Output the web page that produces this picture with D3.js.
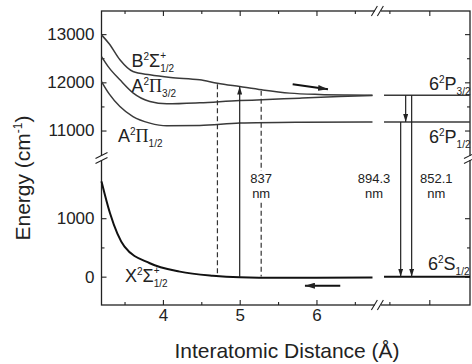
<!DOCTYPE html>
<html>
<head>
<meta charset="utf-8">
<script src="https://cdn.jsdelivr.net/npm/d3@7"></script>
<style>
    body { margin: 0; background: #fff; }
    text { font-family: "Liberation Sans", Arial, sans-serif; fill: #222; }
</style>
</head>
<body>
<svg id="chart" width="472" height="364"></svg>
<script>
// =====================
// DATA
// =====================
var distB = [3.2, 3.3, 3.44, 3.61, 3.83, 4.1, 4.48, 4.71, 5.0, 5.29, 5.65, 6.04, 6.4, 6.73];
var energyB = [12985, 12800, 12467, 12224, 12156, 12100, 12052, 11983, 11913, 11844, 11776, 11748, 11737, 11732];

var distA32 = [3.2, 3.3, 3.44, 3.61, 3.83, 4.05, 4.48, 5.0, 5.29, 5.78, 6.3, 6.73];
var energyA32 = [12535, 12300, 12052, 11782, 11602, 11554, 11575, 11622, 11637, 11672, 11705, 11725];

var distA12 = [3.2, 3.3, 3.44, 3.61, 3.83, 4.05, 4.48, 5.0, 5.8, 6.73];
var energyA12 = [12017, 11760, 11498, 11290, 11154, 11098, 11104, 11154, 11172, 11178];

var distX = [3.2, 3.31, 3.5, 3.83, 4.22, 4.65, 5.0, 5.5, 6.0, 6.73];
var energyX = [1630, 1090, 514, 229, 86, 17, -10, -20, -18, -15];

// atomic levels 6P3/2, 6P1/2, 6S1/2
var atomEnergy = [11732, 11178, 0];

var xMajor = [4, 5, 6];
var xMinor = [3.5, 4.5, 5.5, 6.5];
var xRightMajor = [7.47];
var xRightMinor = [6.95];
var yUpMajor = [11000, 12000, 13000];
var yUpMinor = [11500, 12500];
var yLoMajor = [0, 1000];
var yLoMinor = [500];

// ======
// SCALES
// ======
var svg = d3.select("#chart");
var L = 101.5, R = 470, T = 11, B = 305, YB = 158;

var x = d3.scaleLinear().domain([3.2, 8.0]).range([L, R]);
var yUp = d3.scaleLinear().domain([10430, 13480]).range([YB, T]);
var yLo = d3.scaleLinear().domain([-485, 2030]).range([B, YB]);
function yE(e) { return e > 5000 ? yUp(e) : yLo(e); }

function interp(xs, ys, v) {
    var i = d3.bisectRight(xs, v) - 1;
    i = Math.max(0, Math.min(xs.length - 2, i));
    var t = (v - xs[i]) / (xs[i + 1] - xs[i]);
    return ys[i] + t * (ys[i + 1] - ys[i]);
}

// arrow heads
var defs = svg.append("defs");
function head(id, w, h) {
    defs.append("marker")
        .attr("id", id)
        .attr("viewBox", "0 0 10 8")
        .attr("refX", 10).attr("refY", 4)
        .attr("markerUnits", "userSpaceOnUse")
        .attr("markerWidth", w).attr("markerHeight", h)
        .attr("preserveAspectRatio", "none")
        .attr("orient", "auto")
        .append("path").attr("d", "M0,0 L10,4 L0,8 z").attr("fill", "#222");
}
head("thin", 8, 5);
head("bold", 10, 6);

// ====
// AXES
// ====
function tickAxis(axisFn, scale, vals, size, labels, tx, ty) {
    var a = axisFn(scale).tickValues(vals).tickSizeInner(-size).tickSizeOuter(0);
    a.tickFormat(labels ? d3.format("d") : function () { return ""; });
    var g = svg.append("g").attr("transform", "translate(" + tx + "," + ty + ")").call(a);
    g.select(".domain").remove();
    g.selectAll("line").attr("stroke", "#222").attr("stroke-width", 1.1);
    g.selectAll("text").style("font-size", "17px").attr("fill", "#222");
    return g;
}

tickAxis(d3.axisBottom, x, xMajor, 5, true, 0, B).call(a => a.selectAll("text").attr("y", 4));
tickAxis(d3.axisBottom, x, xMinor.concat(xRightMinor), 3, false, 0, B);
tickAxis(d3.axisBottom, x, xRightMajor, 5, false, 0, B);
tickAxis(d3.axisTop, x, xMajor.concat(xRightMajor), 5, false, 0, T);
tickAxis(d3.axisTop, x, xMinor.concat(xRightMinor), 3, false, 0, T);

tickAxis(d3.axisLeft, yUp, yUpMajor, 5, true, L, 0).call(a => a.selectAll("text").attr("x", -7));
tickAxis(d3.axisLeft, yUp, yUpMinor, 3, false, L, 0);
tickAxis(d3.axisLeft, yLo, yLoMajor, 5, true, L, 0).call(a => a.selectAll("text").attr("x", -7));
tickAxis(d3.axisLeft, yLo, yLoMinor, 3, false, L, 0);
tickAxis(d3.axisRight, yUp, yUpMajor, 5, false, R, 0);
tickAxis(d3.axisRight, yUp, yUpMinor, 3, false, R, 0);
tickAxis(d3.axisRight, yLo, yLoMajor, 5, false, R, 0);
tickAxis(d3.axisRight, yLo, yLoMinor, 3, false, R, 0);

// frame
svg.append("rect")
    .attr("x", L).attr("y", T).attr("width", R - L).attr("height", B - T)
    .attr("fill", "none").attr("stroke", "#222").attr("stroke-width", 1.3);

// axis breaks
var xb = x(6.8);
[T, B].forEach(function (yy) {
    svg.append("rect").attr("x", xb - 3).attr("y", yy - 2).attr("width", 6).attr("height", 4).attr("fill", "#fff");
    [-3.5, 2.5].forEach(function (o) {
        svg.append("line")
            .attr("x1", xb + o - 3).attr("y1", yy + 5)
            .attr("x2", xb + o + 3).attr("y2", yy - 5)
            .attr("stroke", "#222").attr("stroke-width", 1.1);
    });
});
[L, R].forEach(function (xx) {
    svg.append("rect").attr("x", xx - 2).attr("y", YB - 2).attr("width", 4).attr("height", 4).attr("fill", "#fff");
    [-2.5, 2.5].forEach(function (o) {
        svg.append("line")
            .attr("x1", xx - 6).attr("y1", YB + o + 3)
            .attr("x2", xx + 6).attr("y2", YB + o - 3)
            .attr("stroke", "#222").attr("stroke-width", 1.1);
    });
});

// ======
// CURVES
// ======
function curve(xs, ys, color, width) {
    var pts = xs.map(function (d, i) { return [x(d), yE(ys[i])]; });
    svg.append("path")
        .attr("d", d3.line().curve(d3.curveMonotoneX)(pts))
        .attr("fill", "none").attr("stroke", color).attr("stroke-width", width);
}
curve(distB, energyB, "#3a3a3a", 1.5);
curve(distA32, energyA32, "#3a3a3a", 1.5);
curve(distA12, energyA12, "#3a3a3a", 1.5);
curve(distX, energyX, "#111", 2);

// atomic levels
atomEnergy.forEach(function (e, i) {
    svg.append("line")
        .attr("x1", x(6.88)).attr("x2", x(8.0))
        .attr("y1", yE(e)).attr("y2", yE(e))
        .attr("stroke", i === 2 ? "#111" : "#3a3a3a")
        .attr("stroke-width", i === 2 ? 2 : 1.5);
});

// dashed Franck-Condon limits
[4.71, 5.28].forEach(function (r) {
    svg.append("line")
        .attr("x1", x(r)).attr("x2", x(r))
        .attr("y1", yE(interp(distB, energyB, r)) + 1)
        .attr("y2", yE(interp(distX, energyX, r)) - 1)
        .attr("stroke", "#333").attr("stroke-width", 1.2)
        .attr("stroke-dasharray", "5,3");
});

// transitions
function vArrow(r, e1, e2) {
    svg.append("line")
        .attr("x1", x(r)).attr("x2", x(r))
        .attr("y1", yE(e1)).attr("y2", yE(e2))
        .attr("stroke", "#222").attr("stroke-width", 1.2)
        .attr("marker-end", "url(#thin)");
}
vArrow(5.0, interp(distX, energyX, 5.0), interp(distB, energyB, 5.0));
vArrow(7.097, atomEnergy[1], atomEnergy[2]);
vArrow(7.24, atomEnergy[0], atomEnergy[2]);
vArrow(7.162, atomEnergy[0], atomEnergy[1]);

// motion arrows
function hArrow(r1, e1, r2, e2) {
    svg.append("line")
        .attr("x1", x(r1)).attr("y1", yE(e1))
        .attr("x2", x(r2)).attr("y2", yE(e2))
        .attr("stroke", "#111").attr("stroke-width", 2)
        .attr("marker-end", "url(#bold)");
}
hArrow(5.69, 11960, 6.15, 11855);
hArrow(6.31, -154, 5.85, -154);

// wavelength labels
function wl(r, top, txt, bg) {
    if (bg) {
        svg.append("rect").attr("x", x(r) - 13).attr("y", top - 12).attr("width", 26).attr("height", 31).attr("fill", "#fff");
    }
    svg.append("text").attr("x", x(r)).attr("y", top).attr("text-anchor", "middle").style("font-size", "13px").text(txt);
    svg.append("text").attr("x", x(r)).attr("y", top + 15).attr("text-anchor", "middle").style("font-size", "13px").text("nm");
}
wl(5.28, 183, "837", true);
wl(6.75, 183, "894.3", false);
wl(7.56, 183, "852.1", false);

// state labels
function stateLabel(px, py, base, sym, sub, plus, serif) {
    var t = svg.append("text").attr("x", px).attr("y", py).style("font-size", "18px");
    t.append("tspan").text(base);
    t.append("tspan").attr("dy", -7).style("font-size", "10px").text("2");
    t.append("tspan").attr("dy", 7).style("font-family", serif ? "Liberation Serif" : null).text(sym);
    t.append("tspan").attr("dy", 5).style("font-size", "10px").text(sub);
    if (plus) {
        var n = base.length + 1 + sym.length;
        var p = t.node().getStartPositionOfChar(n);
        svg.append("text").attr("x", p.x).attr("y", py - 8).style("font-size", "10px").text("+");
    }
}
stateLabel(131.5, 67, "B", "Σ", "1/2", true, false);
stateLabel(131.5, 92, "A", "Π", "3/2", false, true);
stateLabel(118, 142, "A", "Π", "1/2", false, true);
stateLabel(125, 282, "X", "Σ", "1/2", true, false);
stateLabel(429, 90, "6", "P", "3/2", false, false);
stateLabel(429, 143, "6", "P", "1/2", false, false);
stateLabel(428, 270, "6", "S", "1/2", false, false);

// axis titles
svg.append("text")
    .attr("x", 287).attr("y", 358).attr("text-anchor", "middle")
    .style("font-size", "21px").text("Interatomic Distance (Å)");

var yt = svg.append("text")
    .attr("transform", "translate(30,178) rotate(-90)")
    .attr("text-anchor", "middle").style("font-size", "21px");
yt.append("tspan").text("Energy (cm");
yt.append("tspan").attr("dy", -8).style("font-size", "12px").text("-1");
yt.append("tspan").attr("dy", 8).text(")");
</script>
</body>
</html>
